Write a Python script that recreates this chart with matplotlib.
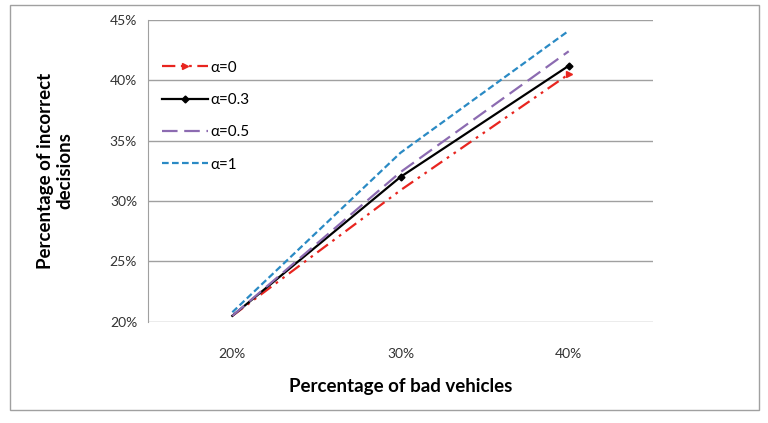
import matplotlib.pyplot as plt
from matplotlib.patches import Rectangle

# categories and series (percent)
categories = ['20%', '30%', '40%']
alpha0 = [20.5, 30.9, 40.5]
alpha03 = [20.5, 32.0, 41.2]
alpha05 = [20.5, 32.4, 42.4]
alpha1 = [20.8, 34.0, 44.1]
yticks = [20, 25, 30, 35, 40, 45]

plt.rcParams['font.family'] = ['Lato', 'DejaVu Sans']

fig = plt.figure(figsize=(7.68, 4.23), dpi=100)
ax = fig.add_axes([0.193, 0.239, 0.657, 0.714])

x = range(len(categories))
ax.plot(x, alpha0, color='#e8251f', lw=1.6, dashes=(6, 2.5, 1.2, 2.5, 1.2, 2.5),
        marker='>', markevery=[2], ms=5, label='α=0')
ax.plot(x, alpha03, color='black', lw=1.6, marker='D', ms=3.5, markevery=[1, 2],
        label='α=0.3')
ax.plot(x, alpha05, color='#8c6bb1', lw=1.6, dashes=(7, 3), label='α=0.5')
ax.plot(x, alpha1, color='#2a8ac4', lw=1.6, dashes=(3, 1.5), label='α=1')

ax.set_xlim(-0.5, 2.5)
ax.set_ylim(20, 45)
ax.set_xticks(list(x))
ax.set_xticklabels(categories)
ax.set_yticks(yticks)
ax.set_yticklabels([f'{v}%' for v in yticks])
ax.yaxis.grid(True, color='#a0a0a0', lw=1)
ax.set_axisbelow(True)
for s in ['top', 'right', 'bottom']:
    ax.spines[s].set_visible(False)
ax.spines['left'].set_color('#a0a0a0')
ax.tick_params(axis='both', length=0, labelsize=10, colors='#333333', pad=8)
ax.tick_params(axis='x', pad=19)

ax.set_xlabel('Percentage of bad vehicles', fontsize=13.5, fontweight='bold', labelpad=13)
ax.set_ylabel('Percentage of incorrect\ndecisions', fontsize=13.5, fontweight='bold', labelpad=26)

leg = ax.legend(loc='upper left', bbox_to_anchor=(0.0, 0.91), frameon=False, fontsize=11,
                handlelength=3, labelspacing=1.2, handletextpad=0.2)
for h in leg.legend_handles:
    h.set_markevery([1])

fig.patches.append(Rectangle((0.013, 0.03), 0.975, 0.958, transform=fig.transFigure,
                             fill=False, edgecolor='#a0a0a0', lw=1))

fig.savefig('out.png', dpi=100)
